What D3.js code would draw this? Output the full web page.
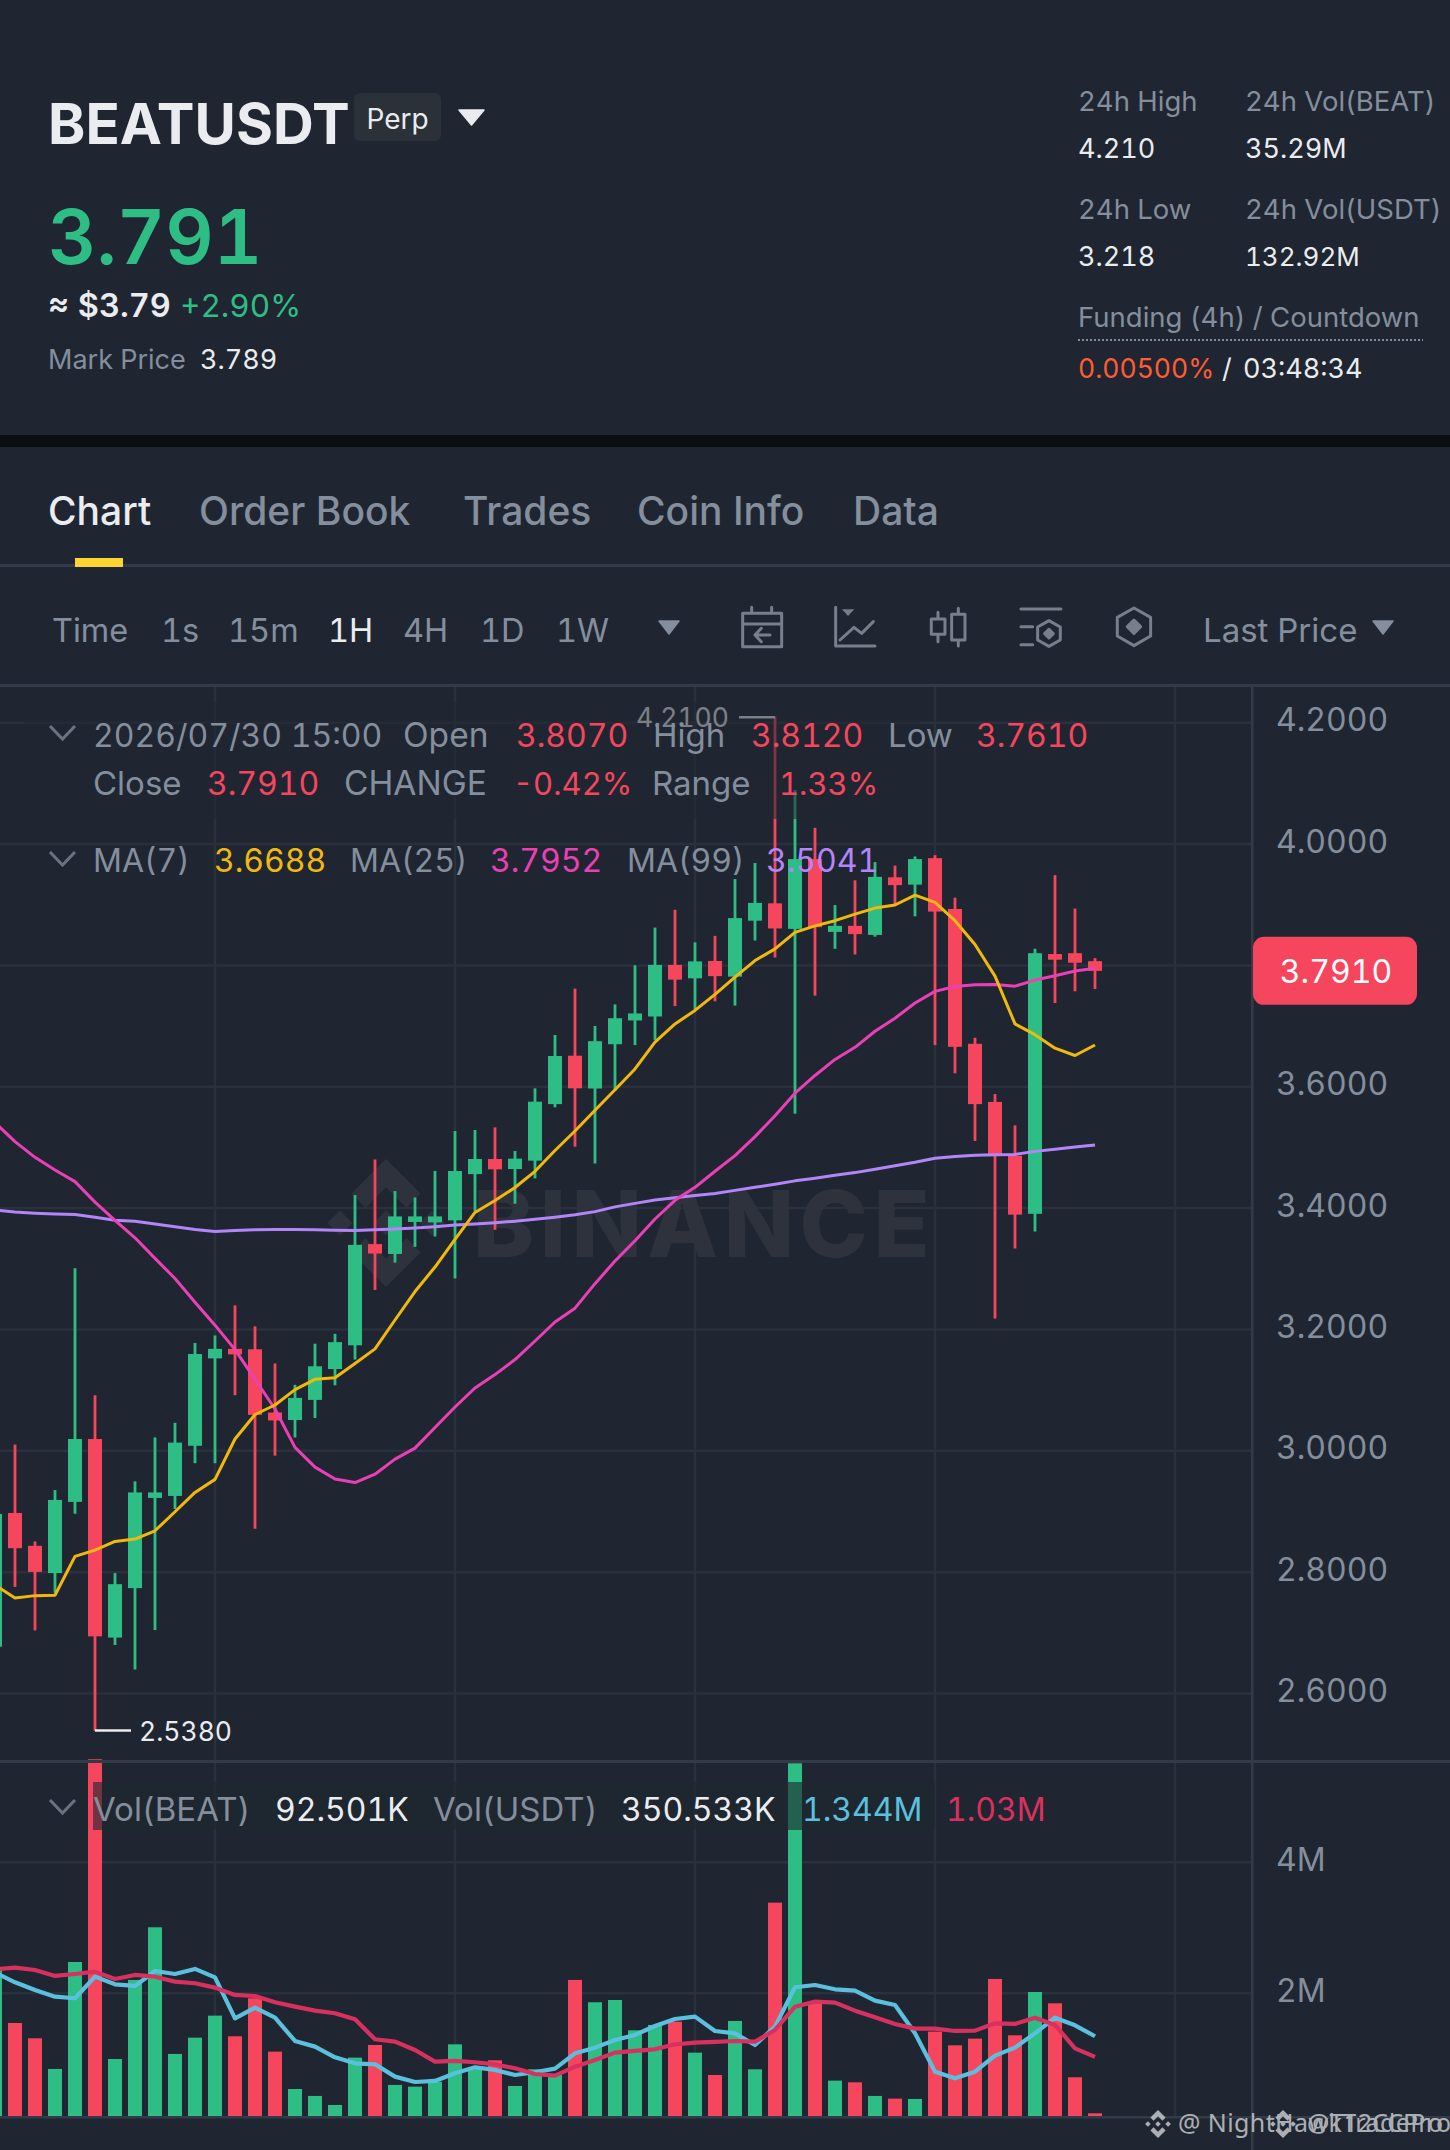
<!DOCTYPE html>
<html>
<head>
<meta charset="utf-8">
<title>BEATUSDT</title>
<script src="https://cdn.jsdelivr.net/npm/d3@7/dist/d3.min.js"></script>
<style>
  html, body { margin: 0; padding: 0; background: #1f2631; }
  svg { display: block; font-family: Inter, "Noto Sans", sans-serif; font-variant-numeric: tabular-nums; }
</style>
</head>
<body>
<svg id="chart" width="1450" height="2150"></svg>
<script>
// candles, one hour each
const open = [2.677,2.8975,2.8434,2.7985,2.9158,3.0194,2.6922,2.7737,2.9223,2.9256,3.0083,3.1523,3.168,3.1673,3.0631,3.0507,3.0839,3.1348,3.1739,3.3407,3.3244,3.3772,3.3765,3.3798,3.456,3.4809,3.4644,3.4782,3.5714,3.6512,3.5971,3.6701,3.7093,3.7158,3.8008,3.7787,3.8073,3.7815,3.8737,3.9023,3.8602,3.9752,3.8552,3.8652,3.8502,3.9452,3.9331,3.9767,3.893,3.6708,3.575,3.4864,3.3906,3.8187,3.8201,3.807];
const high = [2.9,3.0103,2.8506,2.9353,3.3009,3.0917,2.7985,2.9497,3.022,3.0461,3.1778,3.1901,3.2397,3.2051,3.1439,3.1087,3.1765,3.1928,3.4215,3.4802,3.428,3.4176,3.4613,3.5271,3.5287,3.5331,3.4941,3.5974,3.6853,3.7617,3.7001,3.7358,3.8001,3.8623,3.8916,3.838,3.8487,3.9423,3.9688,4.21,4.0889,4.0267,3.8995,3.9402,3.9702,3.9645,3.9795,3.9817,3.9116,3.6808,3.5879,3.5364,3.8273,3.9488,3.8937,3.812];
const low = [2.67,2.7757,2.704,2.7659,2.8962,2.538,2.6799,2.6395,2.7046,2.9041,2.9796,2.9796,3.0917,2.8715,2.992,3.022,3.054,3.108,3.1504,3.2651,3.3101,3.3361,3.3531,3.284,3.3948,3.3642,3.4072,3.4489,3.5661,3.5012,3.4735,3.5929,3.6686,3.6772,3.7329,3.7272,3.7408,3.7337,3.8409,3.813,3.5557,3.7501,3.8273,3.818,3.8473,3.8988,3.8809,3.6686,3.6222,3.5107,3.218,3.3334,3.3613,3.738,3.7573,3.761];
const close = [2.896,2.8395,2.8004,2.919,3.0194,2.6942,2.7802,2.9314,2.9314,3.0135,3.1595,3.168,3.1589,3.0592,3.05,3.0872,3.1393,3.1791,3.3394,3.3251,3.3863,3.3863,3.3863,3.4611,3.4809,3.4639,3.4815,3.5754,3.6507,3.5974,3.6751,3.7129,3.7208,3.8008,3.7765,3.8066,3.7823,3.878,3.903,3.8609,3.9752,3.863,3.8652,3.8516,3.9459,3.9323,3.9752,3.8887,3.6658,3.5714,3.4857,3.3892,3.8201,3.8094,3.8044,3.791];

// moving averages on the candles
const ma7 = [2.779,2.7574,2.7613,2.762,2.8259,2.8363,2.8506,2.8545,2.8682,2.8995,2.9314,2.9529,3.0194,3.0598,3.0755,3.1009,3.1178,3.1204,3.1439,3.168,3.2156,3.2625,3.3029,3.3485,3.3928,3.4124,3.4339,3.4606,3.495,3.5271,3.5614,3.595,3.6293,3.6736,3.7036,3.7258,3.7522,3.7808,3.808,3.8273,3.8544,3.8652,3.8737,3.8845,3.8945,3.8995,3.9159,3.9038,3.8737,3.8344,3.7823,3.7036,3.6858,3.6636,3.6515,3.6688];
const ma25 = [3.5408,3.5095,3.4837,3.4628,3.4437,3.4098,3.3798,3.3511,3.3172,3.284,3.2449,3.2071,3.1667,3.1178,3.0689,3.0057,2.9731,2.9536,2.9477,2.9614,2.9862,3.0044,3.0383,3.0722,3.1035,3.1256,3.1504,3.181,3.2123,3.2351,3.2755,3.3127,3.3463,3.382,3.4128,3.4342,3.4607,3.4864,3.5178,3.5521,3.5893,3.6186,3.645,3.665,3.6915,3.7129,3.738,3.7572,3.7651,3.768,3.7687,3.7658,3.7758,3.783,3.7908,3.7952];
const ma99 = [3.3967,3.3935,3.3915,3.3902,3.3896,3.385,3.3798,3.3785,3.3739,3.3694,3.3648,3.3615,3.3629,3.3642,3.3648,3.3648,3.3642,3.3635,3.3629,3.3642,3.3655,3.3674,3.3694,3.372,3.3739,3.3759,3.3785,3.3818,3.385,3.3889,3.3942,3.402,3.4078,3.4135,3.417,3.4206,3.4242,3.4292,3.4342,3.4392,3.4449,3.4492,3.4542,3.4585,3.4642,3.4699,3.4756,3.4821,3.485,3.4871,3.4878,3.4885,3.4935,3.4971,3.5007,3.5041];

// volume in millions, and its two averages
const volume = [2.356,1.547,1.313,0.845,2.478,5.573,0.997,2.204,3.008,1.074,1.323,1.659,1.344,1.924,1.109,0.539,0.433,0.295,1.018,1.211,0.601,0.575,0.651,1.221,0.84,0.977,0.585,0.84,0.753,2.204,1.863,1.898,1.435,1.517,1.567,1.094,0.753,1.578,0.84,3.384,5.511,1.847,0.667,0.641,0.433,0.392,0.387,1.415,1.206,1.308,2.219,1.359,2.02,1.847,0.718,0.168];
const volMaFast = [2.316,2.168,2.051,1.949,1.924,2.254,2.137,2.112,2.341,2.295,2.372,2.244,1.618,1.781,1.628,1.272,1.186,1.023,0.931,0.916,0.728,0.646,0.662,0.779,0.87,0.83,0.753,0.794,0.85,1.084,1.17,1.288,1.364,1.501,1.608,1.644,1.425,1.389,1.211,1.491,2.092,2.127,2.061,2.041,1.888,1.822,1.389,0.804,0.702,0.804,1.048,1.17,1.389,1.628,1.511,1.344];
const volMaSlow = [2.366,2.392,2.356,2.265,2.295,2.331,2.219,2.28,2.254,2.178,2.153,2.087,1.975,1.959,1.863,1.796,1.735,1.695,1.603,1.298,1.262,1.135,0.957,0.967,0.947,0.916,0.855,0.768,0.743,0.88,0.982,1.094,1.12,1.145,1.221,1.247,1.257,1.272,1.262,1.44,1.796,1.873,1.858,1.735,1.634,1.532,1.461,1.461,1.425,1.43,1.542,1.532,1.628,1.517,1.16,1.03];

const priceTicks = [4.2,4.0,3.8,3.6,3.4,3.2,3.0,2.8,2.6];
const volumeTicks = [4,2];
const timeGridIndex = [11,23,35,47,59];

const tabs = ["Chart","Order Book","Trades","Coin Info","Data"];
const intervals = ["Time","1s","15m","1H","4H","1D","1W"];

const BG = "#1f2631", UP = "#2ebd85", DOWN = "#f6465d", GREY = "#848e9c", WHITE = "#eaecef";
const GRID = "#2a313c", LINE = "#343b48";

const svg = d3.select("#chart");
svg.append("rect").attr("width", 1450).attr("height", 2150).attr("fill", BG);

const x = d3.scaleLinear().domain([0, 55]).range([-5, 1095]);
const y = d3.scaleLinear().domain([2.6, 4.2]).range([1693.5, 722.7]);
const yVol = d3.scaleLinear().domain([0, 4]).range([2124.3, 1862.3]);

svg.append("clipPath").attr("id", "plotClip").append("rect")
    .attr("x", 0).attr("y", 686).attr("width", 1252).attr("height", 1074);
svg.append("clipPath").attr("id", "volClip").append("rect")
    .attr("x", 0).attr("y", 1755).attr("width", 1252).attr("height", 362);

function label(parent, str, px, py, size, fill, weight, anchor) {
    return parent.append("text")
        .attr("x", px).attr("y", py)
        .attr("font-size", size)
        .attr("font-weight", weight || 400)
        .attr("text-anchor", anchor || "start")
        .attr("fill", fill)
        .text(str);
}

function triangle(parent, x0, x1, y0, y1, fill) {
    const mid = (x0 + x1) / 2;
    parent.append("path")
        .attr("d", `M${x0},${y0}L${x1},${y0}L${mid},${y1}Z`)
        .attr("fill", fill).attr("stroke", fill).attr("stroke-width", 1.5).attr("stroke-linejoin", "round");
}

function chevron(parent, x0, x1, y0, y1) {
    parent.append("path")
        .attr("d", `M${x0},${y0}L${(x0 + x1) / 2},${y1}L${x1},${y0}`)
        .attr("fill", "none").attr("stroke", "#6b7280").attr("stroke-width", 3);
}

// Binance mark built from its five pieces
function logo(parent, cx, cy, r, fill) {
    const g = parent.append("g").attr("transform", `translate(${cx},${cy}) scale(${r})`).attr("fill", fill);
    const diamond = (dx, s) => `M${dx - s},0L${dx},${-s}L${dx + s},0L${dx},${s}Z`;
    g.append("path").attr("d", diamond(0, 0.2));
    g.append("path").attr("d", diamond(-0.72, 0.2));
    g.append("path").attr("d", diamond(0.72, 0.2));
    g.append("path").attr("d", "M0,-1L0.54,-0.46L0.32,-0.24L0,-0.56L-0.32,-0.24L-0.54,-0.46Z");
    g.append("path").attr("d", "M0,1L0.54,0.46L0.32,0.24L0,0.56L-0.32,0.24L-0.54,0.46Z");
}

// ---- header ----
const header = svg.append("g");
label(header, "BEATUSDT", 48, 144, 56.5, WHITE, 700);
header.append("rect").attr("x", 354).attr("y", 93).attr("width", 87).attr("height", 48).attr("rx", 6).attr("fill", "#2b3139");
label(header, "Perp", 397.5, 129, 28, WHITE, 400, "middle");
triangle(header, 459, 484, 110, 125, WHITE);

label(header, "3.791", 48, 264, 75, UP, 600);
label(header, "≈ $3.79", 48, 317, 32.5, WHITE, 600);
label(header, "+2.90%", 180, 317, 31.5, UP);
label(header, "Mark Price", 48, 369, 27, GREY);
label(header, "3.789", 200, 369, 27, WHITE);

label(header, "24h High", 1078, 111, 27.5, GREY);
label(header, "24h Vol(BEAT)", 1245, 111, 27.5, GREY);
label(header, "4.210", 1078, 158, 27, WHITE);
label(header, "35.29M", 1245, 158, 27, WHITE);
label(header, "24h Low", 1078, 219, 27.5, GREY);
label(header, "24h Vol(USDT)", 1245, 219, 27.5, GREY);
label(header, "3.218", 1078, 266, 27, WHITE);
label(header, "132.92M", 1245, 266, 26, WHITE);
label(header, "Funding (4h) / Countdown", 1078, 327, 27.5, GREY);
header.append("line").attr("x1", 1078).attr("x2", 1423).attr("y1", 340).attr("y2", 340)
    .attr("stroke", GREY).attr("stroke-width", 2).attr("stroke-dasharray", "2,2");
label(header, "0.00500%", 1078, 378, 26.5, "#ff5c34");
label(header, "/", 1222, 378, 27, WHITE);
label(header, "03:48:34", 1243, 378, 27, WHITE);

svg.append("rect").attr("x", 0).attr("y", 435).attr("width", 1450).attr("height", 12).attr("fill", "#0b0e11");

// ---- tabs and toolbar ----
const nav = svg.append("g");
const tabX = [48, 199, 463, 637, 853];
tabs.forEach((t, i) => label(nav, t, tabX[i], 525, 39, i === 0 ? WHITE : GREY, 500));
nav.append("rect").attr("x", 0).attr("y", 564).attr("width", 1450).attr("height", 3).attr("fill", LINE);
nav.append("rect").attr("x", 75).attr("y", 558).attr("width", 48).attr("height", 9).attr("fill", "#fcd535");

const intervalX = [52, 161, 228, 328, 403, 480, 556];
intervals.forEach((t, i) => label(nav, t, intervalX[i], 642, 32.5, t === "1H" ? WHITE : GREY));
triangle(nav, 659, 679, 621, 634, GREY);
label(nav, "Last Price", 1203, 642, 33, GREY);
triangle(nav, 1373, 1393, 621, 634, GREY);
nav.append("rect").attr("x", 0).attr("y", 684).attr("width", 1450).attr("height", 3).attr("fill", LINE);

// toolbar icons, drawn at 3x and scaled down
const icons = nav.append("g").attr("transform", "translate(720,590) scale(0.3333)")
    .attr("fill", "none").attr("stroke", "#777e8c").attr("stroke-width", 9).attr("stroke-linejoin", "round").attr("stroke-linecap", "round");
icons.append("path").attr("d", "M68,70H185V170H68ZM68,102H185M95,52V70M155,52V70M150,135H105M124,115L105,135L124,155");
icons.append("path").attr("d", "M347,52V168H465M360,150L402,112L425,130L460,95");
icons.append("path").attr("d", "M366,58H403L384,78Z").attr("fill", "#777e8c").attr("stroke", "none");
icons.append("path").attr("d", "M634,87H675V133H634ZM654,67V87M654,133V155M695,73H735V150H695ZM715,55V73M715,150V168");
icons.append("path").attr("d", "M903,57H1023M903,110H938M903,164H938M987,92L1021,111V150L987,169L953,150V111Z");
icons.append("path").attr("d", "M987,118L1000,131L987,144L974,131Z").attr("fill", "#777e8c");
icons.append("path").attr("d", "M1242,54L1292,82V138L1242,167L1192,138V82Z");
icons.append("path").attr("d", "M1242,90L1262,110L1242,130L1222,110Z").attr("fill", "#777e8c");

// ---- grid ----
const grid = svg.append("g").attr("stroke", GRID).attr("stroke-width", 2.5);
grid.selectAll(".hgrid").data(priceTicks).join("line").attr("class", "hgrid")
    .attr("x1", 0).attr("x2", 1252).attr("y1", d => y(d)).attr("y2", d => y(d));
grid.selectAll(".vgrid").data(timeGridIndex).join("line").attr("class", "vgrid")
    .attr("x1", d => x(d)).attr("x2", d => x(d)).attr("y1", 687).attr("y2", 2117);
grid.selectAll(".volgrid").data(volumeTicks).join("line").attr("class", "volgrid")
    .attr("x1", 0).attr("x2", 1252).attr("y1", d => yVol(d)).attr("y2", d => yVol(d));

// watermark
logo(svg, 386, 1223, 64, "#2e323d");
svg.append("text").attr("x", 473).attr("y", 1257).attr("font-size", 92).attr("font-weight", 800)
    .attr("letter-spacing", 5.5).attr("fill", "#2e323d").text("BINANCE");

// ---- candles ----
const plot = svg.append("g").attr("clip-path", "url(#plotClip)");
const idx = d3.range(open.length);
const colour = i => close[i] >= open[i] ? UP : DOWN;

plot.selectAll(".wick").data(idx).join("line").attr("class", "wick")
    .attr("x1", i => x(i)).attr("x2", i => x(i))
    .attr("y1", i => y(high[i])).attr("y2", i => y(low[i]))
    .attr("stroke", colour).attr("stroke-width", 2.8);
plot.selectAll(".body").data(idx).join("rect").attr("class", "body")
    .attr("x", i => x(i) - 7).attr("width", 14)
    .attr("y", i => y(Math.max(open[i], close[i])))
    .attr("height", i => Math.max(3, Math.abs(y(open[i]) - y(close[i]))))
    .attr("fill", colour);

const priceLine = d3.line().x((d, i) => x(i)).y(d => y(d));
[[ma99, "#b385f8"], [ma25, "#eb40b5"], [ma7, "#f0b90b"]].forEach(([series, c]) => {
    plot.append("path").attr("d", priceLine(series)).attr("fill", "none")
        .attr("stroke", c).attr("stroke-width", 3).attr("stroke-linejoin", "round");
});

// high and low markers
const hiLo = svg.append("g");
const hiIdx = d3.maxIndex(high), loIdx = d3.minIndex(low);
hiLo.append("line").attr("x1", x(hiIdx) - 36).attr("x2", x(hiIdx)).attr("y1", y(high[hiIdx]) + 0.5).attr("y2", y(high[hiIdx]) + 0.5)
    .attr("stroke", WHITE).attr("stroke-width", 2.5);
label(hiLo, high[hiIdx].toFixed(4), x(hiIdx) - 46, y(high[hiIdx]) + 10, 26.5, WHITE, 400, "end");
hiLo.append("line").attr("x1", x(loIdx)).attr("x2", x(loIdx) + 36).attr("y1", y(low[loIdx]) - 0.5).attr("y2", y(low[loIdx]) - 0.5)
    .attr("stroke", WHITE).attr("stroke-width", 2.5);
label(hiLo, low[loIdx].toFixed(4), x(loIdx) + 44, y(low[loIdx]) + 10, 26.5, WHITE);

// backing of the OHLC legend dims what runs behind it
svg.append("rect").attr("x", 24).attr("y", 702).attr("width", 896).attr("height", 117).attr("fill", BG).attr("opacity", 0.55);

// ---- volume ----
const vol = svg.append("g").attr("clip-path", "url(#volClip)");
vol.selectAll(".vbar").data(idx).join("rect").attr("class", "vbar")
    .attr("x", i => x(i) - 7).attr("width", 14)
    .attr("y", i => yVol(volume[i]))
    .attr("height", i => yVol(0) - yVol(volume[i]))
    .attr("fill", colour);
const volLine = d3.line().x((d, i) => x(i)).y(d => yVol(d));
[[volMaFast, "#5bc0de"], [volMaSlow, "#d9315f"]].forEach(([series, c]) => {
    vol.append("path").attr("d", volLine(series)).attr("fill", "none")
        .attr("stroke", c).attr("stroke-width", 4.2).attr("stroke-linejoin", "round");
});
svg.append("rect").attr("x", 93).attr("y", 1782).attr("width", 842).attr("height", 48).attr("fill", BG).attr("opacity", 0.62);

svg.append("rect").attr("x", 0).attr("y", 1760).attr("width", 1450).attr("height", 3).attr("fill", LINE);
svg.append("rect").attr("x", 0).attr("y", 2116).attr("width", 1450).attr("height", 2.5).attr("fill", LINE);
svg.append("rect").attr("x", 1251).attr("y", 686).attr("width", 2.5).attr("height", 1464).attr("fill", LINE);

// ---- axes ----
const priceAxis = d3.axisRight(y).tickValues(priceTicks).tickFormat(d3.format(".4f")).tickSize(0).tickPadding(24);
const priceAxisG = svg.append("g").attr("transform", "translate(1252,0)").call(priceAxis);
priceAxisG.select(".domain").remove();
priceAxisG.selectAll("text").attr("font-size", 32).attr("font-family", "Inter").attr("fill", GREY).attr("dy", "0.25em");

const volAxis = d3.axisRight(yVol).tickValues(volumeTicks).tickFormat(d => d + "M").tickSize(0).tickPadding(24);
const volAxisG = svg.append("g").attr("transform", "translate(1252,0)").call(volAxis);
volAxisG.select(".domain").remove();
volAxisG.selectAll("text").attr("font-size", 32).attr("font-family", "Inter").attr("fill", GREY).attr("dy", "0.25em");

// last price tag
const last = close[close.length - 1];
svg.append("rect").attr("x", 1253).attr("y", y(last) - 34).attr("width", 164).attr("height", 68).attr("rx", 11).attr("fill", DOWN);
label(svg, last.toFixed(4), 1336, y(last) + 12, 32, "#fff", 400, "middle");

// ---- legends ----
const legend = svg.append("g");
chevron(legend, 50, 75, 726, 739);
label(legend, "2026/07/30 15:00", 93, 747, 32, GREY);
label(legend, "Open", 403, 747, 33.5, GREY);
label(legend, open[55].toFixed(4), 516, 747, 32, DOWN);
label(legend, "High", 653, 747, 33, GREY);
label(legend, high[55].toFixed(4), 751, 747, 32, DOWN);
label(legend, "Low", 888, 747, 33, GREY);
label(legend, low[55].toFixed(4), 976, 747, 32, DOWN);
label(legend, "Close", 93, 795, 33, GREY);
label(legend, close[55].toFixed(4), 207, 795, 32, DOWN);
label(legend, "CHANGE", 344, 795, 33.5, GREY);
label(legend, "-0.42%", 513, 795, 31, DOWN);
label(legend, "Range", 652, 795, 33, GREY);
label(legend, "1.33%", 779, 795, 31, DOWN);

chevron(legend, 50, 75, 852, 865);
label(legend, "MA(7)", 93, 872, 32, GREY);
label(legend, ma7[55].toFixed(4), 214, 872, 32, "#f0b90b");
label(legend, "MA(25)", 350, 872, 32, GREY);
label(legend, ma25[55].toFixed(4), 490, 872, 32, "#eb40b5");
label(legend, "MA(99)", 627, 872, 32, GREY);
label(legend, ma99[55].toFixed(4), 766, 872, 32, "#b385f8");

chevron(legend, 50, 75, 1800, 1813);
label(legend, "Vol(BEAT)", 93, 1821, 33, GREY);
label(legend, "92.501K", 275, 1821, 32, WHITE);
label(legend, "Vol(USDT)", 433, 1821, 33, GREY);
label(legend, "350.533K", 621, 1821, 32, WHITE);
label(legend, "1.344M", 802, 1821, 32, "#5bc0de");
label(legend, "1.03M", 946, 1821, 32, "#d9315f");

// ---- author tags, stacked in the corner ----
const tags = svg.append("g").attr("opacity", 0.8).attr("font-family", "Noto Sans");
logo(tags, 1158, 2124, 14, "#cfd2d6");
label(tags, "@ NightHawkTradePro", 1178, 2132, 25, "#cfd2d6").attr("letter-spacing", 0.4);
logo(tags, 1283, 2124, 14, "#cfd2d6");
label(tags, "@T12CCPro", 1307, 2132, 25, "#cfd2d6");
</script>
</body>
</html>
